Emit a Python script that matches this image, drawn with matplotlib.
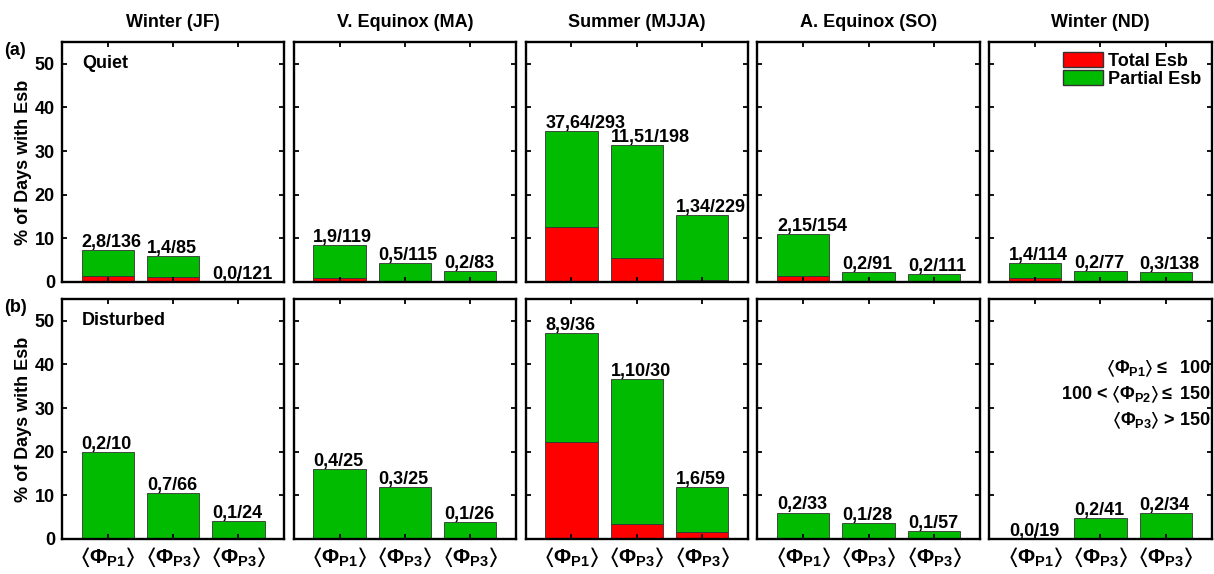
import numpy as np
import matplotlib
matplotlib.use("Agg")
import matplotlib.pyplot as plt
from matplotlib.patches import Patch

plt.rcParams["font.family"] = ["Liberation Sans", "DejaVu Sans"]
plt.rcParams["font.weight"] = "bold"
plt.rcParams["mathtext.fontset"] = "custom"
plt.rcParams["mathtext.rm"] = "Liberation Sans:bold"
plt.rcParams["mathtext.it"] = "Liberation Sans:bold"
plt.rcParams["mathtext.bf"] = "Liberation Sans:bold"
plt.rcParams["mathtext.sf"] = "Liberation Sans:bold"
plt.rcParams["mathtext.fallback"] = "stixsans"

# seasons (columns)
seasons = ["Winter (JF)", "V. Equinox (MA)", "Summer (MJJA)", "A. Equinox (SO)", "Winter (ND)"]
tick_labels = [r"$\langle\Phi_{\rm P1}\rangle$", r"$\langle\Phi_{\rm P3}\rangle$", r"$\langle\Phi_{\rm P3}\rangle$"]

# counts per season and flux class: days with total Esb, partial Esb, total days
quiet_total = [[2, 1, 0], [1, 0, 0], [37, 11, 1], [2, 0, 0], [1, 0, 0]]
quiet_partial = [[8, 4, 0], [9, 5, 2], [64, 51, 34], [15, 2, 2], [4, 2, 3]]
quiet_days = [[136, 85, 121], [119, 115, 83], [293, 198, 229], [154, 91, 111], [114, 77, 138]]

dist_total = [[0, 0, 0], [0, 0, 0], [8, 1, 1], [0, 0, 0], [0, 0, 0]]
dist_partial = [[2, 7, 1], [4, 3, 1], [9, 10, 6], [2, 1, 1], [0, 2, 2]]
dist_days = [[10, 66, 24], [25, 25, 26], [36, 30, 59], [33, 28, 57], [19, 41, 34]]

rows = [
    (quiet_total, quiet_partial, quiet_days, "(a)", "Quiet"),
    (dist_total, dist_partial, dist_days, "(b)", "Disturbed"),
]

red = "#ff0000"
green = "#00bb00"
fs = 13
bw = 0.8

fig, axes = plt.subplots(2, 5, figsize=(12.14, 5.74), dpi=100)
fig.subplots_adjust(left=0.051, right=0.998, top=0.927, bottom=0.061,
                    wspace=0.043, hspace=0.071)

x = np.arange(1, 4)
for r, (tot, par, days, tag, cond) in enumerate(rows):
    for c in range(5):
        ax = axes[r, c]
        t = np.array(tot[c], dtype=float)
        p = np.array(par[c], dtype=float)
        d = np.array(days[c], dtype=float)
        red_h = t / d * 100
        all_h = (t + p) / d * 100
        ax.bar(x, red_h, width=bw, color=red, edgecolor="#333333", linewidth=0.6)
        ax.bar(x, all_h - red_h, bottom=red_h, width=bw, color=green,
               edgecolor="#333333", linewidth=0.6)
        # label starts at the left edge of each bar
        for xi, h, a, b, n in zip(x, all_h, tot[c], par[c], days[c]):
            ax.text(xi - bw / 2, h + 0.7, f"{a},{b}/{n}", ha="left", va="baseline",
                    fontsize=fs, fontweight="bold")
        ax.set_xlim(0.3, 3.7)
        ax.set_ylim(0, 55)
        ax.set_yticks([0, 10, 20, 30, 40, 50])
        ax.set_xticks(x)
        ax.tick_params(direction="in", top=True, right=True, length=3.5, width=1.3,
                       labelsize=fs, pad=5)
        for s in ax.spines.values():
            s.set_linewidth(1.7)
        if c > 0:
            ax.set_yticklabels([])
        else:
            ax.set_ylabel("% of Days with Esb", fontsize=fs, fontweight="bold", labelpad=2)
            ax.text(-0.26, 1.0, tag, transform=ax.transAxes, fontsize=fs,
                    fontweight="bold", ha="left", va="top")
            ax.text(0.09, 0.91, cond, transform=ax.transAxes, fontsize=fs,
                    fontweight="bold", ha="left", va="center")
        if r == 0:
            ax.set_xticklabels([])
            ax.set_title(seasons[c], fontsize=fs, fontweight="bold", pad=11)
        else:
            ax.set_xticklabels(tick_labels, fontsize=15)

# legend in the last quiet panel
handles = [Patch(facecolor=red, edgecolor="#333333", label="Total Esb"),
           Patch(facecolor=green, edgecolor="#333333", label="Partial Esb")]
axes[0, 4].legend(handles=handles, loc="upper right", frameon=False, fontsize=fs,
                  handlelength=2.2, handleheight=0.95, handletextpad=0.3,
                  borderaxespad=0.15, labelspacing=0.0)

# flux class definitions
ax = axes[1, 4]
ax.text(3.69, 39, r"$\langle\Phi_{\rm P1}\rangle \leq$  100", ha="right", va="center", fontsize=fs)
ax.text(3.69, 33, r"100 < $\langle\Phi_{\rm P2}\rangle \leq$ 150", ha="right", va="center", fontsize=fs)
ax.text(3.69, 27, r"$\langle\Phi_{\rm P3}\rangle$ > 150", ha="right", va="center", fontsize=fs)

fig.savefig("out.png", dpi=100)
